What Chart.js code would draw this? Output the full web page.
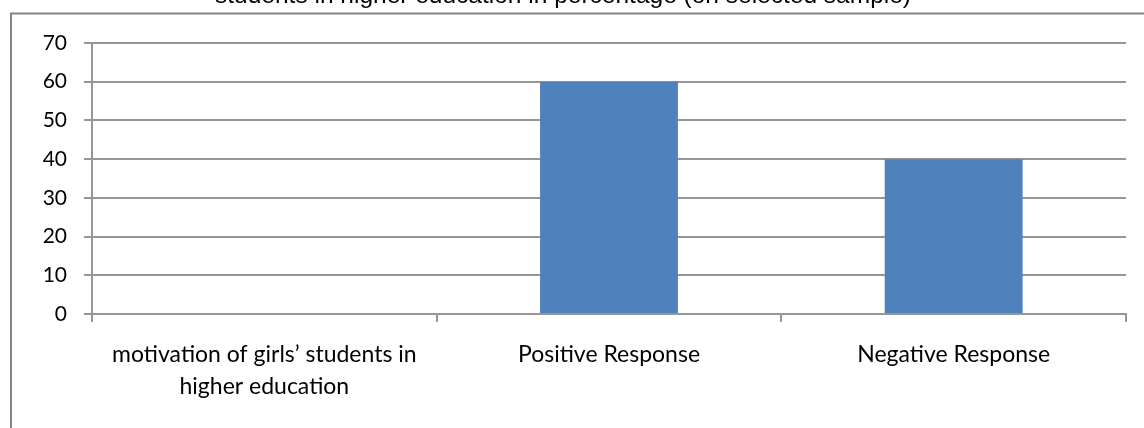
<!DOCTYPE html>
<html><head><meta charset="utf-8">
<script src="https://cdn.jsdelivr.net/npm/chart.js@4"></script>
<style>
html,body{margin:0;padding:0;background:#fff;overflow:hidden;width:1144px;height:428px}
#wrap{position:absolute;left:0;top:-20px;width:1144px;height:448px}
</style></head><body>
<div id="wrap"><canvas id="c" width="1144" height="448"></canvas></div>
<script>
const titleText = 'students in higher education in percentage (on selected sample)';
const categories = [["motivation of girls\u2019 students in", "higher education"], "Positive Response", "Negative Response"];
const seriesName = 'Response';
const values = [null, 60, 40];
const yMin = 0, yMax = 70, yStep = 10;

const OFFSET = 20;
const framePlugin = {
  id: 'frame',
  beforeDraw(chart) {
    const ctx = chart.ctx;
    ctx.save();
    ctx.strokeStyle = '#868686';
    ctx.lineWidth = 2;
    ctx.strokeRect(11, 13.5 + OFFSET, 1200, 600);
    ctx.restore();
  }
};

const fam = 'Lato, "Open Sans", sans-serif';
const lineCol = '#969696';

new Chart(document.getElementById('c'), {
  type: 'bar',
  data: {
    labels: categories,
    datasets: [{
      label: seriesName,
      data: values,
      backgroundColor: '#4F81BD',
      borderWidth: 0,
      categoryPercentage: 1,
      barPercentage: 0.4
    }]
  },
  options: {
    responsive: false,
    animation: false,
    devicePixelRatio: 1,
    layout: { padding: { left: 0, right: 18, top: 0, bottom: 0 } },
    plugins: {
      legend: { display: false },
      tooltip: { enabled: false },
      title: {
        display: true,
        text: titleText,
        color: '#000',
        font: { family: '"Liberation Sans", Arial, sans-serif', size: 24.5, weight: 'normal', lineHeight: 1.2 },
        padding: { top: 1.6, bottom: 32 }
      }
    },
    scales: {
      x: {
        grid: { display: true, drawOnChartArea: false, drawTicks: true, tickLength: 8, offset: true, color: lineCol, lineWidth: 2 },
        border: { display: true, color: lineCol, width: 2 },
        ticks: { color: '#000', font: { family: fam, size: 23, lineHeight: 1.39 }, padding: 17, autoSkip: false, maxRotation: 0 },
        afterFit(scale) { scale.height = 114; }
      },
      y: {
        min: yMin, max: yMax,
        grid: { color: lineCol, lineWidth: 2, tickLength: 8 },
        border: { display: true, color: lineCol, width: 2 },
        ticks: { stepSize: yStep, color: '#000', font: { family: fam, size: 21 }, padding: 17 },
        afterFit(scale) { scale.width = 92; }
      }
    }
  },
  plugins: [framePlugin]
});
</script>
</body></html>
